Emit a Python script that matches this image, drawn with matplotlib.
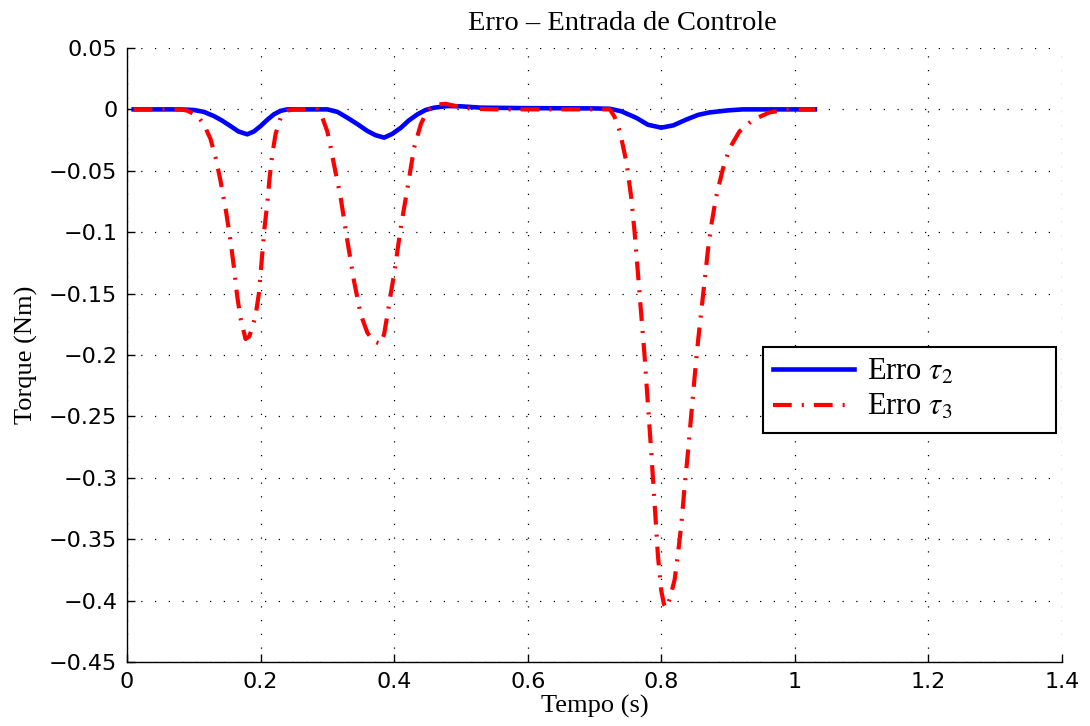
import matplotlib
matplotlib.use('Agg')
import matplotlib.pyplot as plt
from matplotlib.ticker import FuncFormatter

plt.rcParams['mathtext.fontset'] = 'stix'

# Erro tau_2 (linha azul)
t2 = [0.01, 0.08, 0.10, 0.115, 0.13, 0.142, 0.155, 0.167, 0.18, 0.19, 0.20, 0.21,
      0.22, 0.23, 0.24, 0.30, 0.315, 0.33, 0.345, 0.36, 0.372, 0.385, 0.397, 0.41,
      0.422, 0.435, 0.447, 0.46, 0.48, 0.50, 0.53, 0.60, 0.70, 0.723, 0.74, 0.763,
      0.78, 0.80, 0.818, 0.837, 0.855, 0.872, 0.90, 0.922, 1.03]
e2 = [0, 0, -0.0005, -0.002, -0.0054, -0.009, -0.0136, -0.018, -0.0203, -0.018,
      -0.0136, -0.0085, -0.004, -0.0012, 0, 0, -0.002, -0.0068, -0.012, -0.0176,
      -0.021, -0.023, -0.020, -0.015, -0.009, -0.004, -0.0005, 0.0014, 0.0027,
      0.0025, 0.0014, 0.001, 0.0008, 0.0005, -0.0015, -0.007, -0.0125, -0.0149,
      -0.013, -0.0084, -0.0045, -0.0025, -0.0008, 0, 0]

# Erro tau_3 (linha vermelha)
t3 = [0.01, 0.05, 0.08, 0.09, 0.105, 0.115, 0.125, 0.133, 0.14, 0.148, 0.155, 0.16,
      0.165, 0.17, 0.1775, 0.183, 0.1875, 0.1925, 0.1975, 0.2025, 0.206, 0.21,
      0.2135, 0.2175, 0.2225, 0.23, 0.24, 0.25, 0.285, 0.292, 0.30, 0.305, 0.31,
      0.32, 0.33, 0.34, 0.35, 0.36, 0.37, 0.38, 0.385, 0.39, 0.395, 0.40, 0.41,
      0.42, 0.43, 0.44, 0.448, 0.455, 0.465, 0.4775, 0.49, 0.515, 0.55, 0.70,
      0.723, 0.73, 0.738, 0.748, 0.755, 0.76, 0.765, 0.77, 0.775, 0.78, 0.785,
      0.79, 0.795, 0.80, 0.804, 0.808, 0.813, 0.82, 0.825, 0.83, 0.835, 0.84,
      0.845, 0.85, 0.855, 0.86, 0.865, 0.87, 0.875, 0.882, 0.892, 0.902, 0.917,
      0.937, 0.962, 0.99, 1.03]
e3 = [0, 0, 0, -0.001, -0.005, -0.012, -0.024, -0.04, -0.058, -0.082, -0.107,
      -0.128, -0.152, -0.170, -0.187, -0.185, -0.178, -0.168, -0.150, -0.118,
      -0.096, -0.077, -0.056, -0.037, -0.020, -0.007, -0.001, 0, 0, -0.006,
      -0.018, -0.031, -0.045, -0.072, -0.107, -0.140, -0.167, -0.182, -0.189,
      -0.191, -0.183, -0.167, -0.150, -0.134, -0.096, -0.064, -0.031, -0.012,
      -0.003, 0.0015, 0.004, 0.0045, 0.003, 0.0005, 0, 0, 0, -0.006, -0.018,
      -0.0435, -0.0716, -0.0996, -0.133, -0.167, -0.2007, -0.240, -0.279,
      -0.321, -0.3635, -0.392, -0.403, -0.406, -0.398, -0.383, -0.362, -0.338,
      -0.307, -0.279, -0.248, -0.2175, -0.189, -0.164, -0.139, -0.114, -0.094,
      -0.0716, -0.049, -0.032, -0.018, -0.0085, -0.0025, 0, 0]

xticks = [0, 0.2, 0.4, 0.6, 0.8, 1.0, 1.2, 1.4]
yticks = [0.05, 0, -0.05, -0.1, -0.15, -0.2, -0.25, -0.3, -0.35, -0.4, -0.45]

serif = 'Liberation Serif'

fig = plt.figure(figsize=(10.9, 7.26), dpi=100)
ax = fig.add_axes([0.1165, 0.0882, 0.8578, 0.8457])

ax.plot(t2, e2, color='blue', lw=3.3, label=r'Erro $\tau_2$')
ax.plot(t3, e3, color='red', lw=3.0, dashes=(4.5, 2.4, 0.5, 2.4),
        label=r'Erro $\tau_3$')

ax.set_xlim(0, 1.4)
ax.set_ylim(-0.45, 0.05)
ax.set_xticks(xticks)
ax.set_yticks(yticks)
fmt = FuncFormatter(lambda v, p: ('%g' % round(v, 4)).replace('-', '\u2212'))
ax.xaxis.set_major_formatter(fmt)
ax.yaxis.set_major_formatter(fmt)
ax.tick_params(direction='in', length=6, width=1, labelsize=16, pad=7,
               top=False, right=False)
for lab in ax.get_xticklabels() + ax.get_yticklabels():
    lab.set_family('DejaVu Sans')

for s in ['top', 'right']:
    ax.spines[s].set_visible(False)
for s in ['left', 'bottom']:
    ax.spines[s].set_linewidth(1.0)

ax.grid(True, color='black', lw=0.9, linestyle=(0, (1, 10)))

ax.set_title('Erro \u2013 Entrada de Controle', family=serif, fontsize=20.5,
             pad=13, x=0.53)
ax.set_xlabel('Tempo (s)', family=serif, fontsize=19, labelpad=2)
ax.set_ylabel('Torque (Nm)', family=serif, fontsize=19, labelpad=8)

leg = ax.legend(loc='upper left', bbox_to_anchor=(0.68, 0.381, 0.3136, 0.132),
                mode='expand', borderaxespad=0, fancybox=False, framealpha=1,
                edgecolor='black', handlelength=2.65, handletextpad=0.4,
                borderpad=0.35, labelspacing=0.2,
                prop={'family': serif, 'size': 22})
leg.get_frame().set_linewidth(1.5)

fig.savefig('out.png', dpi=100)
